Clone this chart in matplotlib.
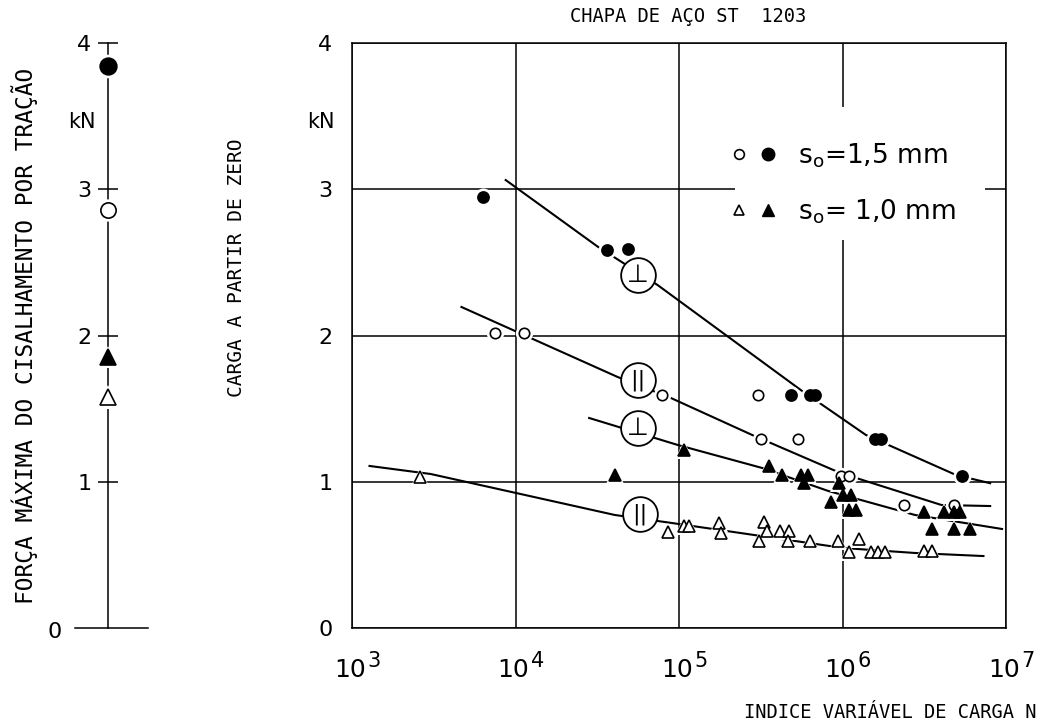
import numpy as np
import matplotlib
matplotlib.use("Agg")
import matplotlib.pyplot as plt
from matplotlib.lines import Line2D
from matplotlib.patches import Rectangle
from matplotlib.legend_handler import HandlerTuple

# ---------------- data ----------------
# left panel: maximum tensile shear force (kN)
left_filled_circle = [3.84]
left_open_circle = [2.86]
left_filled_tri = [1.85]
left_open_tri = [1.58]

# main panel: load cycles N and load (kN)
fc_N = [6.31e3, 3.65e4, 4.87e4, 4.82e5, 6.31e5, 6.76e5, 1.58e6, 1.71e6, 5.37e6]
fc_F = [2.95, 2.585, 2.59, 1.593, 1.593, 1.593, 1.29, 1.29, 1.04]

oc_N = [7.46e3, 1.12e4, 7.83e4, 3.05e5, 3.18e5, 5.33e5, 9.77e5, 1.10e6, 2.38e6, 4.79e6]
oc_F = [2.02, 2.02, 1.593, 1.593, 1.29, 1.29, 1.04, 1.04, 0.84, 0.84]

ft_N = [4.07e4, 1.07e5, 3.57e5, 4.24e5, 5.56e5, 6.15e5, 5.81e5, 9.55e5, 8.51e5,
        1.01e6, 1.12e6, 1.09e6, 1.21e6, 3.14e6, 4.17e6, 4.79e6, 5.25e6, 3.51e6,
        4.79e6, 6.03e6]
ft_F = [1.046, 1.22, 1.11, 1.046, 1.046, 1.046, 0.99, 0.99, 0.86,
        0.91, 0.91, 0.81, 0.81, 0.79, 0.79, 0.79, 0.79, 0.68,
        0.68, 0.68]

ot_N = [2.61e3, 8.51e4, 1.07e5, 1.15e5, 1.75e5, 1.80e5, 3.10e5, 3.31e5, 3.47e5,
        4.12e5, 4.69e5, 4.62e5, 6.32e5, 9.44e5, 1.26e6, 1.10e6, 1.49e6, 1.64e6,
        1.81e6, 3.14e6, 3.51e6]
ot_F = [1.03, 0.656, 0.70, 0.70, 0.72, 0.65, 0.595, 0.725, 0.663,
        0.663, 0.663, 0.595, 0.595, 0.595, 0.608, 0.52, 0.52, 0.52,
        0.52, 0.527, 0.527]

# fitted curves
c1_N = [8.71e3, 3.16e4, 7.40e4, 5.56e5, 1.39e6, 4.95e6, 8.0e6]
c1_F = [3.063, 2.61, 2.345, 1.627, 1.32, 1.046, 0.99]
c2_N = [4.67e3, 4.22e4, 8.91e4, 2.80e5, 9.06e5, 1.21e6, 4.03e6, 8.0e6]
c2_F = [2.195, 1.716, 1.573, 1.32, 1.074, 1.026, 0.841, 0.834]
c3_N = [2.82e4, 9.86e4, 3.23e5, 8.18e5, 2.77e6, 9.46e6]
c3_F = [1.436, 1.251, 1.094, 0.937, 0.773, 0.677]
c4_N = [1.28e3, 3.03e3, 4.04e4, 9.04e4, 1.01e6, 2.77e6, 7.28e6]
c4_F = [1.108, 1.053, 0.773, 0.718, 0.547, 0.513, 0.492]

# circled curve tags
tag_N = [5.62e4, 5.62e4, 5.62e4, 5.79e4]
tag_F = [2.414, 1.696, 1.368, 0.78]
tag_txt = ["\u22A5", "||", "\u22A5", "||"]

x_ticks = [1e3, 1e4, 1e5, 1e6, 1e7]
x_exps = ["3", "4", "5", "6", "7"]
y_ticks = [0, 1, 2, 3, 4]

legend_labels = [r"$\mathrm{s_o}$=1,5 mm", r"$\mathrm{s_o}$= 1,0 mm"]

# ---------------- figure ----------------
W, H = 1053, 728
fig = plt.figure(figsize=(W / 100, H / 100), dpi=100)
plt.rcParams["font.family"] = ["DejaVu Sans"]
plt.rcParams["mathtext.fontset"] = "dejavusans"
LW = 1.1


def px_axes(l, t, r, b):
    return fig.add_axes([l / W, 1 - b / H, (r - l) / W, (b - t) / H])


ax = px_axes(352, 43, 1006, 628)
ax.set_xscale("log")
ax.set_xlim(1e3, 1e7)
ax.set_ylim(0, 4)
ax.set_axisbelow(True)
ax.set_xticks(x_ticks)
ax.set_xticklabels([""] * len(x_ticks))
ax.xaxis.set_minor_locator(matplotlib.ticker.NullLocator())
ax.set_yticks(y_ticks)
ax.set_yticklabels([str(v) for v in y_ticks], fontsize=16)
ax.tick_params(axis="both", length=0, pad=14)
ax.grid(True, color="black", lw=LW)
for s in ax.spines.values():
    s.set_linewidth(LW)

# white area behind legend (interrupts gridlines)
ax.add_patch(Rectangle((0.5856, 0.6632), 0.3823, 0.2274, transform=ax.transAxes,
                       fc="white", ec="none", zorder=1))

# curves
for cn, cf in [(c1_N, c1_F), (c2_N, c2_F), (c3_N, c3_F), (c4_N, c4_F)]:
    ax.plot(cn, cf, color="black", lw=1.5, zorder=2)


def pts(a, n, f, marker, ms, filled):
    a.plot(n, f, ls="none", marker=marker, ms=ms + 5, mfc="white", mec="white",
           mew=0, zorder=3)
    a.plot(n, f, ls="none", marker=marker, ms=ms,
           mfc="black" if filled else "white", mec="black", mew=1.2, zorder=4)


pts(ax, fc_N, fc_F, "o", 8, True)
pts(ax, oc_N, oc_F, "o", 7.5, False)
pts(ax, ft_N, ft_F, "^", 8, True)
pts(ax, ot_N, ot_F, "^", 8.5, False)

# circled tags
ax.plot(tag_N, tag_F, ls="none", marker="o", ms=25, mfc="white", mec="black",
        mew=1.3, zorder=5)
for n, f, t in zip(tag_N, tag_F, tag_txt):
    ax.text(n, f, t, ha="center", va="center", fontsize=18 if t != "||" else 16,
            zorder=6)

# x tick labels 10^n
for v, e in zip(x_ticks, x_exps):
    ax.annotate("10", xy=(v, 0), xycoords=("data", "axes fraction"),
                xytext=(-2, -30), textcoords="offset pixels", ha="center",
                va="top", fontsize=18, annotation_clip=False)
    ax.annotate(e, xy=(v, 0), xycoords=("data", "axes fraction"),
                xytext=(15, -23), textcoords="offset pixels", ha="left",
                va="top", fontsize=15, annotation_clip=False)

ax.annotate("kN", xy=(0, 3.46), xycoords=("axes fraction", "data"),
            xytext=(-31, 0), textcoords="offset pixels", ha="center",
            va="center", fontsize=15, annotation_clip=False)

# legend
h1 = (Line2D([], [], ls="none", marker="o", ms=7, mfc="white", mec="black", mew=1.2),
      Line2D([], [], ls="none", marker="o", ms=9, mfc="black", mec="black"))
h2 = (Line2D([], [], ls="none", marker="^", ms=7.5, mfc="white", mec="black", mew=1.2),
      Line2D([], [], ls="none", marker="^", ms=8, mfc="black", mec="black"))
leg = ax.legend([h1, h2], legend_labels,
                handler_map={tuple: HandlerTuple(ndivide=None, pad=0.3)},
                loc="upper left", bbox_to_anchor=((728 - 352) / 654, (628 - 141) / 585),
                frameon=False, fontsize=19, handlelength=1.9, handletextpad=0.75,
                labelspacing=1.05, borderpad=0, borderaxespad=0)
leg.set_zorder(7)

# ---------------- left panel ----------------
axL = px_axes(75, 43, 148, 628)
axL.set_xlim(-0.452, 0.548)
axL.set_ylim(0, 4)
axL.spines["top"].set_visible(False)
axL.spines["right"].set_visible(False)
axL.spines["left"].set_position(("data", 0))
axL.spines["left"].set_bounds(0, 4)
for s in axL.spines.values():
    s.set_linewidth(LW)
axL.set_xticks([])
axL.set_yticks([1, 2, 3, 4])
axL.set_yticklabels(["1", "2", "3", "4"], fontsize=16)
axL.tick_params(axis="y", direction="inout", length=14, width=LW, pad=5)
axL.patch.set_alpha(0)

pts(axL, [0], left_filled_circle, "o", 12, True)
pts(axL, [0], left_open_circle, "o", 11, False)
pts(axL, [0], left_filled_tri, "^", 11, True)
pts(axL, [0], left_open_tri, "^", 12, False)

axL.annotate("0", xy=(0, 0), xycoords=("axes fraction", "data"),
             xytext=(-20, -4), textcoords="offset pixels", ha="center",
             va="center", fontsize=16, annotation_clip=False)
axL.annotate("kN", xy=(0, 3.46), xycoords="data",
             xytext=(-26, 0), textcoords="offset pixels", ha="center",
             va="center", fontsize=15, annotation_clip=False)

# ---------------- texts ----------------
mono = "DejaVu Sans Mono"
fig.text(688 / W, 1 - 17 / H, "CHAPA DE AÇO ST  1203", ha="center", va="center",
         family=mono, fontsize=13.5)
fig.text(1036 / W, 1 - 712 / H, "INDICE VARIÁVEL DE CARGA N", ha="right",
         va="center", family=mono, fontsize=13.5)
fig.text(237 / W, 1 - 268 / H, "CARGA A PARTIR DE ZERO", rotation=90,
         ha="center", va="center", family=mono, fontsize=14)
fig.text(25 / W, 1 - 336 / H, "FORÇA MÁXIMA DO CISALHAMENTO POR TRAÇÃO",
         rotation=90, ha="center", va="center", family=mono, fontsize=16.5)

fig.savefig("out.png", dpi=100)
